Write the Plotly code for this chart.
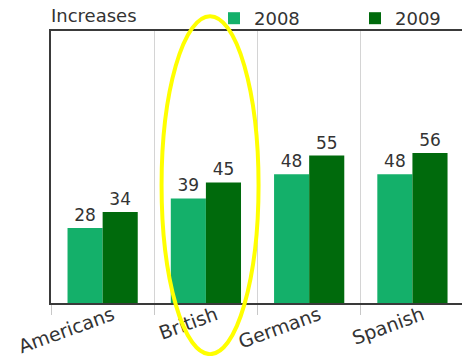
import plotly.graph_objects as go

# Data
groups = ["Americans", "British", "Germans", "Spanish"]
years = ["2008", "2009"]
increases_2008 = [28, 39, 48, 48]
increases_2009 = [34, 45, 55, 56]
series_colors = ["#14b06a", "#006a0c"]
legend_ids = ["legend", "legend2"]

FONT = "DejaVu Sans, Verdana, sans-serif"
TEXT_COLOR = "#333333"
W, H = 462, 356
M_L, M_R, M_T, M_B = 51, 0, 31, 53
PLOT_W = W - M_L - M_R
PLOT_H = H - M_T - M_B

fig = go.Figure()
for name, values, color, lg in zip(years, [increases_2008, increases_2009], series_colors, legend_ids):
    fig.add_trace(go.Bar(
        x=groups,
        y=values,
        name=name,
        legend=lg,
        marker=dict(color=color, line=dict(width=0)),
        text=[str(v) for v in values],
        textposition="outside",
        cliponaxis=False,
        textfont=dict(family=FONT, size=17, color=TEXT_COLOR),
    ))

# Highlight ellipse around the British group
fig.add_shape(
    type="circle",
    xref="paper", yref="paper",
    x0=0.269, x1=0.505, y0=-0.188, y1=1.054,
    line=dict(color="#ffff00", width=4),
    fillcolor="rgba(0,0,0,0)",
    layer="above",
)

# Legend heading
fig.add_annotation(
    text="Increases",
    xref="paper", yref="paper",
    x=-0.006, y=1.058,
    xanchor="left", yanchor="middle",
    showarrow=False,
    font=dict(family=FONT, size=18, color=TEXT_COLOR),
)

legend_style = dict(
    orientation="h",
    xref="paper", yref="paper",
    xanchor="left", yanchor="top",
    y=1 + M_T / PLOT_H,
    font=dict(family=FONT, size=18, color=TEXT_COLOR),
    bgcolor="rgba(0,0,0,0)",
    borderwidth=0,
)

fig.update_layout(
    width=W,
    height=H,
    margin=dict(l=M_L, r=M_R, t=M_T, b=M_B, autoexpand=False),
    paper_bgcolor="white",
    plot_bgcolor="white",
    barmode="group",
    bargap=0.32,
    bargroupgap=0,
    font=dict(family=FONT, color=TEXT_COLOR),
    showlegend=True,
    legend=dict(x=(214 - M_L) / PLOT_W, **legend_style),
    legend2=dict(x=(355 - M_L) / PLOT_W, **legend_style),
    xaxis=dict(
        type="category",
        range=[-0.5, 3.48],
        automargin=False,
        tickson="boundaries",
        ticks="outside",
        ticklen=10,
        tickcolor="#c8c8c8",
        tickwidth=1,
        tickangle=-20,
        ticklabelshift=10,
        ticklabelstandoff=-8,
        tickfont=dict(family=FONT, size=19, color=TEXT_COLOR),
        showgrid=True,
        gridcolor="#d4d4d4",
        gridwidth=1,
        showline=True,
        linecolor="#3a3a3a",
        linewidth=2,
        mirror=True,
        zeroline=False,
    ),
    yaxis=dict(
        range=[0, 101.5],
        automargin=False,
        showticklabels=False,
        ticks="",
        showgrid=False,
        zeroline=False,
        showline=True,
        linecolor="#3a3a3a",
        linewidth=2,
        mirror=False,
    ),
)

fig.write_html("out.html")
